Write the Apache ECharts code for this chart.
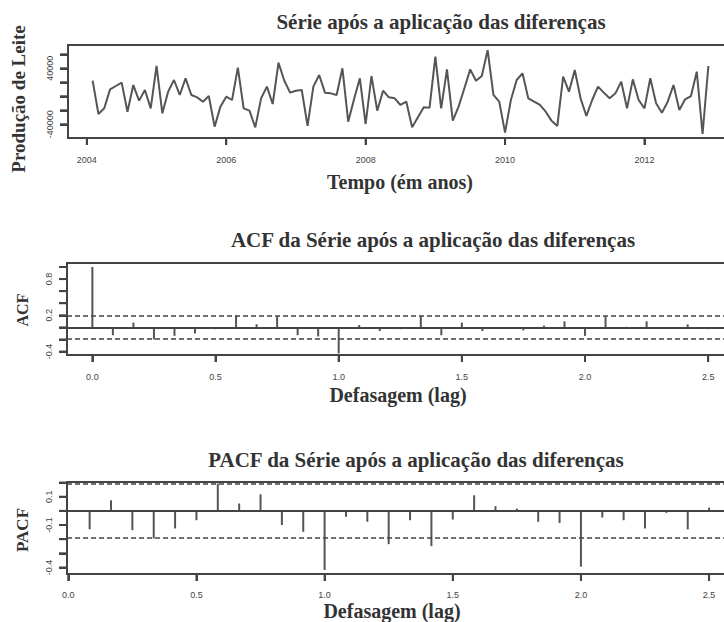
<!DOCTYPE html>
<html>
<head>
<meta charset="utf-8">
<script src="https://cdn.jsdelivr.net/npm/echarts@6/dist/echarts.min.js"></script>
<style>
  html, body { margin: 0; padding: 0; background: #fff; }
  #chart { width: 724px; height: 622px; }
</style>
</head>
<body>
<div id="chart"></div>
<script>
// serie diferenciada, mensal de fev/2004 a dez/2012
const startYear = 2004;
const startMonth = 2;
const milkDiff = [
  22300, -25300, -17200, 9900, 14700, 19500, -22000, 16100, -6200, 9000,
  -17200, 43300, -24300, 6600, 23300, 1900, 25700, 1900, -1500, -7700,
  400, -43400, -14800, -500, -5300, 41000, -17200, -20500, -44400, -2900,
  13800, -11000, 48000, 22300, 5200, 8000, 9000, -42400, 13800, 30400,
  5200, 4200, 1900, 40000, -36200, -4300, 25700, -39600, 29000, -20500,
  8000, -1500, -2900, -12400, -7700, -44300, -30000, -15800, -16200, 56600,
  -17200, 38500, -34800, -14800, 11400, 38500, 22300, 29000, 66000, 1900,
  -7700, -52000, -5300, 23300, 32800, -2900, -7700, -12400, -22000, -34800,
  -42400, 28000, 6600, 37600, -2900, -28100, -5300, 13800, 5200, -2900,
  4200, 20900, -17200, 24200, -5300, -17200, 25700, -10000, -23400, -7700,
  16100, -19600, -4300, 400, 35200, -53900, 43300
];
const yearTicks = [2004, 2006, 2008, 2010, 2012];
const milkTicks = [-40000, -20000, 0, 20000, 40000, 60000];
const milkLabels = [-40000, 40000];

// ACF, lags 0..30 (em anos: lag/12)
const acfValues = [
  1.0, -0.13, 0.08, -0.2, -0.14, -0.1, -0.03, 0.2, 0.05, 0.18,
  -0.13, -0.15, -0.43, 0.04, -0.06, -0.03, 0.19, -0.13, 0.08, -0.06,
  -0.01, -0.05, 0.03, 0.1, -0.14, 0.18, 0.01, 0.1, -0.02, 0.05, -0.03
];
// PACF, lags 1..30
const pacfValues = [
  -0.13, 0.075, -0.136, -0.195, -0.124, -0.066, 0.193, 0.052, 0.117, -0.1,
  -0.148, -0.418, -0.042, -0.077, -0.235, -0.066, -0.249, -0.061, 0.11, 0.033,
  0.016, -0.077, -0.085, -0.394, -0.047, -0.066, -0.124, -0.014, -0.131, 0.023
];
const confLimit = 0.19;
const lagTicks = [0, 0.5, 1, 1.5, 2, 2.5];
const acfTicks = [-0.4, -0.2, 0, 0.2, 0.4, 0.6, 0.8, 1.0];
const acfLabels = [-0.4, 0.2, 0.8];
const pacfTicks = [-0.4, -0.3, -0.2, -0.1, 0, 0.1, 0.2];
const pacfLabels = [-0.4, -0.1, 0.1];

const ink = '#444444';
const serif = 'Liberation Serif, Times New Roman, serif';
const sans = 'Liberation Sans, Arial, sans-serif';

// limites dos eixos (estilo R, 4% de folga)
const ranges = [
  { x: [2003.73, 2013.27], y: [-59600, 73300] },
  { x: [-0.103, 2.686], y: [-0.457, 1.066] },
  { x: [-0.005, 2.683], y: [-0.446, 0.204] }
];

const chart = echarts.init(document.getElementById('chart'), null, { renderer: 'svg' });

const milkData = milkDiff.map((v, i) => [startYear + (startMonth - 1 + i) / 12, v]);
const acfData = acfValues.map((v, i) => [i / 12, v]);
const pacfData = pacfValues.map((v, i) => [(i + 1) / 12, v]);

function xAxisStyle(g, ticks, margin, fmt) {
  return {
    type: 'value', gridIndex: g, min: ranges[g].x[0], max: ranges[g].x[1],
    axisLine: { show: true, onZero: false, lineStyle: { color: ink, width: 2 } },
    axisTick: { show: true, length: 7, customValues: ticks, lineStyle: { color: ink, width: 2 } },
    axisLabel: { customValues: ticks, margin, color: ink, fontFamily: sans, fontSize: 9, formatter: fmt },
    splitLine: { show: false }
  };
}
function yAxisStyle(g, ticks, labels, fmt) {
  return {
    type: 'value', gridIndex: g, min: ranges[g].y[0], max: ranges[g].y[1],
    axisLine: { show: true, onZero: false, lineStyle: { color: ink, width: 2 } },
    axisTick: { show: true, length: 8, customValues: ticks, lineStyle: { color: ink, width: 2 } },
    axisLabel: { customValues: labels, rotate: 90, margin: 14, color: ink, fontFamily: sans, fontSize: 9, formatter: fmt },
    splitLine: { show: false }
  };
}

function refLines() {
  return {
    silent: true, symbol: 'none', label: { show: false }, animation: false,
    data: [
      { yAxis: 0, lineStyle: { type: 'solid', width: 2, color: ink } },
      { yAxis: confLimit, lineStyle: { type: [5, 3], width: 1.5, color: ink } },
      { yAxis: -confLimit, lineStyle: { type: [5, 3], width: 1.5, color: ink } }
    ]
  };
}

function text(x, y, str, size, rot) {
  return {
    type: 'text', x, y, rotation: rot || 0, z: 50,
    style: {
      text: str, fill: '#333', fontFamily: serif, fontWeight: 'bold', fontSize: size,
      align: 'center', verticalAlign: 'middle'
    }
  };
}

const fmtYear = (v) => String(v);
const fmt1 = (v) => v.toFixed(1);

const gridBase = { show: true, borderColor: ink, borderWidth: 2, outerBoundsMode: 'none' };

const titles = [
  text(441, 22, 'Série após a aplicação das diferenças', 21),
  text(400, 182, 'Tempo (ém anos)', 20),
  text(18, 99, 'Produção de Leite', 19, Math.PI / 2),
  text(433, 240, 'ACF da Série após a aplicação das diferenças', 21),
  text(398, 395, 'Defasagem (lag)', 20),
  text(22, 310, 'ACF', 16, Math.PI / 2),
  text(416, 460, 'PACF da Série após a aplicação das diferenças', 21),
  text(392, 611, 'Defasagem (lag)', 20),
  text(22, 530, 'PACF', 17, Math.PI / 2)
];

const option = {
  animation: false,
  grid: [
    Object.assign({ left: 68, top: 45, width: 665, height: 93 }, gridBase),
    Object.assign({ left: 67, top: 263, width: 687, height: 92 }, gridBase),
    Object.assign({ left: 67, top: 482, width: 689, height: 92 }, gridBase)
  ],
  xAxis: [
    xAxisStyle(0, yearTicks, 17, fmtYear),
    xAxisStyle(1, lagTicks, 17, fmt1),
    xAxisStyle(2, lagTicks, 16, fmt1)
  ],
  yAxis: [
    yAxisStyle(0, milkTicks, milkLabels, fmtYear),
    yAxisStyle(1, acfTicks, acfLabels, fmt1),
    yAxisStyle(2, pacfTicks, pacfLabels, fmt1)
  ],
  series: [
    {
      name: 'Produção de Leite', type: 'line', xAxisIndex: 0, yAxisIndex: 0,
      data: milkData, showSymbol: false,
      lineStyle: { color: '#555', width: 2 }
    },
    {
      name: 'ACF', type: 'bar', xAxisIndex: 1, yAxisIndex: 1,
      data: acfData, barWidth: 2, itemStyle: { color: '#555' },
      markLine: refLines()
    },
    {
      name: 'PACF', type: 'bar', xAxisIndex: 2, yAxisIndex: 2,
      data: pacfData, barWidth: 2, itemStyle: { color: '#555' },
      markLine: refLines()
    }
  ],
  graphic: titles
};

chart.setOption(option);

// marcas dos eixos tambem como graficos, pela escala de cada eixo
const tickSets = [
  { g: 0, x: yearTicks, y: milkTicks },
  { g: 1, x: lagTicks, y: acfTicks },
  { g: 2, x: lagTicks, y: pacfTicks }
];
const tickMarks = [];
tickSets.forEach(({ g, x, y }) => {
  const r = ranges[g];
  x.forEach((v) => {
    try {
      const p = chart.convertToPixel({ gridIndex: g }, [v, r.y[0]]);
      tickMarks.push({ type: 'line', z: 60, shape: { x1: p[0], y1: p[1], x2: p[0], y2: p[1] + 7 },
        style: { stroke: ink, lineWidth: 2 } });
    } catch (e) { /* sem marca */ }
  });
  y.forEach((v) => {
    try {
      const p = chart.convertToPixel({ gridIndex: g }, [r.x[0], v]);
      tickMarks.push({ type: 'line', z: 60, shape: { x1: p[0] - 8, y1: p[1], x2: p[0], y2: p[1] },
        style: { stroke: ink, lineWidth: 2 } });
    } catch (e) { /* sem marca */ }
  });
});
chart.setOption({ graphic: titles.concat(tickMarks) });
</script>
</body>
</html>
